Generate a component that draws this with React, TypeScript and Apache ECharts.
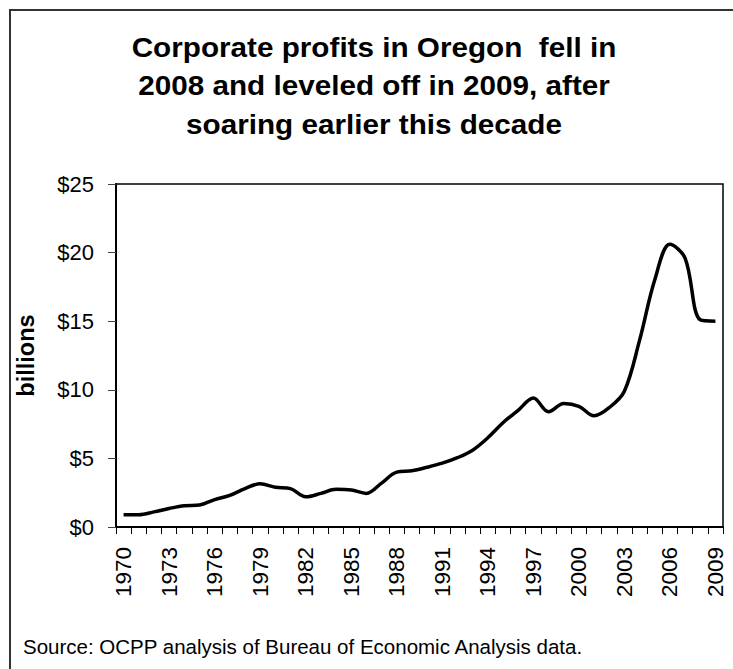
import React, { useEffect, useRef } from "react";
import * as echarts from "echarts";

const years: string[] = [
  "1970", "1971", "1972", "1973", "1974", "1975", "1976", "1977", "1978", "1979",
  "1980", "1981", "1982", "1983", "1984", "1985", "1986", "1987", "1988", "1989",
  "1990", "1991", "1992", "1993", "1994", "1995", "1996", "1997", "1998", "1999",
  "2000", "2001", "2002", "2003", "2004", "2005", "2006", "2007", "2008", "2009",
];

// Oregon corporate profits, billions of dollars
const profits: number[] = [
  0.9, 0.9, 1.1, 1.35, 1.55, 1.6, 2.0, 2.3, 2.8, 3.15,
  2.9, 2.8, 2.2, 2.45, 2.75, 2.7, 2.45, 3.2, 4.0, 4.1,
  4.35, 4.65, 5.05, 5.6, 6.5, 7.6, 8.5, 9.4, 8.4, 9.0,
  8.8, 8.1, 8.7, 9.9, 13.6, 18.0, 20.6, 19.6, 15.1, 15.0,
];

const titleLines: string[] = [
  "Corporate profits in Oregon  fell in",
  "2008 and leveled off in 2009, after",
  "soaring earlier this decade",
];
const sourceText = "Source: OCPP analysis of Bureau of Economic Analysis data.";
const yAxisName = "billions";

const FONT = "'Liberation Sans', Arial, sans-serif";

export default function App() {
  const ref = useRef<HTMLDivElement>(null);

  useEffect(() => {
    if (!ref.current) return;
    const chart = echarts.init(ref.current, undefined, { renderer: "svg" });
    chart.setOption({
      animation: false,
      backgroundColor: "#ffffff",
      textStyle: { fontFamily: FONT },
      grid: {
        left: 116,
        right: 10,
        top: 184,
        bottom: 142,
        show: true,
        borderColor: "#000",
        borderWidth: 1.5,
      },
      xAxis: {
        type: "category",
        data: years,
        boundaryGap: true,
        axisLine: { show: true, lineStyle: { color: "#000", width: 2 } },
        axisTick: {
          show: true,
          alignWithLabel: false,
          interval: 0,
          length: 7,
          lineStyle: { color: "#000", width: 1 },
        },
        axisLabel: {
          interval: 2,
          rotate: 90,
          margin: 20,
          fontSize: 22.5,
          color: "#000",
          fontFamily: FONT,
        },
        splitLine: { show: false },
      },
      yAxis: {
        type: "value",
        min: 0,
        max: 25,
        interval: 5,
        name: yAxisName,
        nameLocation: "middle",
        nameRotate: 90,
        nameGap: 78,
        nameTextStyle: {
          fontSize: 23.5,
          fontWeight: "bold",
          color: "#000",
          fontFamily: FONT,
        },
        axisLine: { show: true, lineStyle: { color: "#000", width: 2 } },
        axisTick: { show: true, length: 8, lineStyle: { color: "#444", width: 1 } },
        axisLabel: {
          margin: 22,
          fontSize: 22,
          color: "#000",
          fontFamily: FONT,
          formatter: (v: number) => "$" + v,
        },
        splitLine: { show: false },
      },
      series: [
        {
          type: "line",
          data: profits,
          smooth: 0.35,
          showSymbol: false,
          symbol: "none",
          lineStyle: { color: "#000", width: 3.5 },
        },
      ],
      graphic: [
        {
          type: "rect",
          shape: { x: 10, y: 10, width: 900, height: 900 },
          style: { fill: "none", stroke: "#333", lineWidth: 2 },
          silent: true,
        },
        {
          type: "text",
          x: 374,
          y: 28,
          scaleX: 1.06,
          style: {
            text: titleLines.join("\n"),
            textAlign: "center",
            align: "center",
            textVerticalAlign: "top",
            verticalAlign: "top",
            fontSize: 28,
            fontWeight: "bold",
            fontFamily: FONT,
            lineHeight: 38.4,
            fill: "#000",
          },
        },
        {
          type: "text",
          x: 23,
          y: 657,
          style: {
            text: sourceText,
            textAlign: "left",
            align: "left",
            textVerticalAlign: "bottom",
            verticalAlign: "bottom",
            fontSize: 20.5,
            fontFamily: FONT,
            fill: "#000",
          },
        },
      ],
    });
    return () => chart.dispose();
  }, []);

  return (
    <div
      ref={ref}
      style={{ position: "absolute", left: 0, top: 0, width: 733, height: 669 }}
    />
  );
}
